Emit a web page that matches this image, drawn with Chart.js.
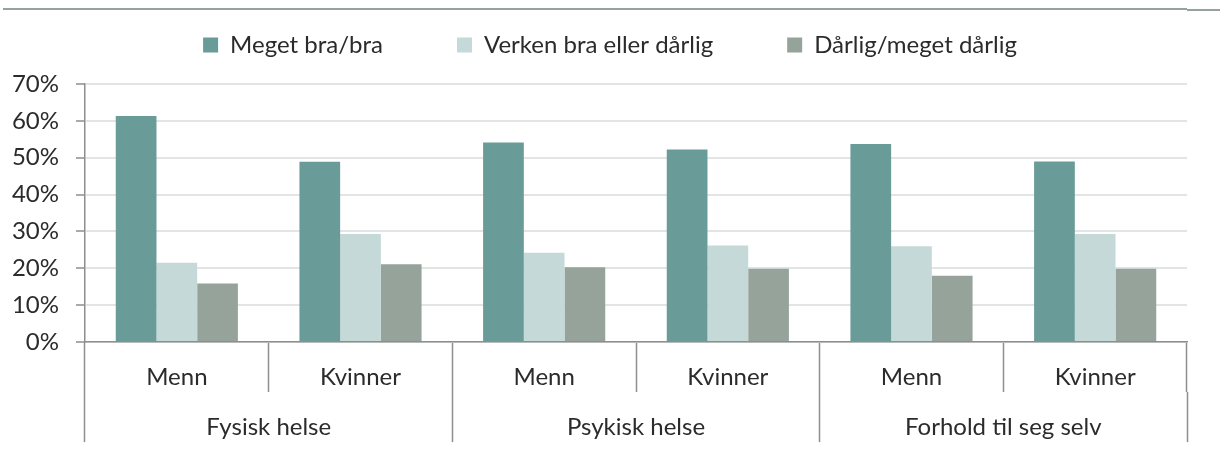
<!DOCTYPE html>
<html lang="no">
<head>
  <meta charset="UTF-8">
  <title>Helse etter kjønn</title>
  <script src="https://cdn.jsdelivr.net/npm/chart.js"></script>
  <style>
    html, body { margin: 0; padding: 0; background: #fff; }
    .wrap { position: relative; width: 1220px; height: 455px; }
    /* grå strek øverst */
    .topline { position: absolute; left: 3px; top: 8px; width: 1184px; height: 0; border-top: 2px solid #95a39b; }
    .topline2 { position: absolute; left: 1187px; top: 9px; width: 33px; height: 0; border-top: 2px solid #95a39b; }
    canvas { position: absolute; left: 0; top: 0; }
  </style>
</head>
<body>
  <div class="wrap">
    <canvas id="chart" width="1220" height="455"></canvas>
    <div class="topline"></div>
    <div class="topline2"></div>
  </div>

  <script>
    // kategorier
    const kjonn = ['Menn', 'Kvinner', 'Menn', 'Kvinner', 'Menn', 'Kvinner'];
    const grupper = ['Fysisk helse', 'Psykisk helse', 'Forhold til seg selv'];

    // verdier i prosent
    const megetBra = [61.3, 48.9, 54.1, 52.2, 53.7, 49.0];
    const verken = [21.5, 29.3, 24.2, 26.2, 26.0, 29.3];
    const darlig = [15.9, 21.1, 20.3, 19.9, 18.0, 19.9];

    const yTicks = [0, 10, 20, 30, 40, 50, 60, 70];

    const tekstFarge = '#2b2b2b';
    const aksefarge = '#8e8e8e';
    const font = { family: 'Lato', size: 24 };

    Chart.defaults.font.family = 'Lato';
    Chart.defaults.color = tekstFarge;

    new Chart(document.getElementById('chart').getContext('2d'), {
      type: 'bar',
      data: {
        labels: kjonn,
        datasets: [
          { label: 'Meget bra/bra', data: megetBra, backgroundColor: '#699b98' },
          { label: 'Verken bra eller dårlig', data: verken, backgroundColor: '#c5d9d8' },
          { label: 'Dårlig/meget dårlig', data: darlig, backgroundColor: '#95a39b' }
        ]
      },
      options: {
        responsive: false,
        animation: false,
        layout: { padding: { left: 0, right: 0, top: -41, bottom: 0 } },
        datasets: {
          bar: { categoryPercentage: 0.665, barPercentage: 1.0 }
        },
        plugins: {
          legend: {
            position: 'top',
            labels: {
              font: font,
              boxWidth: 15,
              boxHeight: 15,
              padding: 74,
              color: tekstFarge
            }
          },
          tooltip: { enabled: false }
        },
        scales: {
          x: {
            type: 'category',
            position: 'bottom',
            offset: true,
            grid: {
              offset: true,
              drawOnChartArea: false,
              drawTicks: true,
              tickLength: 50,
              tickColor: aksefarge,
              tickWidth: 1.5
            },
            border: { display: true, color: aksefarge, width: 1.5 },
            ticks: { font: font, color: tekstFarge, padding: -29, maxRotation: 0, autoSkip: false },
            afterFit: (scale) => { scale.height = 50; }
          },
          x2: {
            type: 'category',
            position: 'bottom',
            labels: grupper,
            offset: true,
            grid: {
              offset: true,
              drawOnChartArea: false,
              drawTicks: true,
              tickLength: 50,
              tickColor: aksefarge,
              tickWidth: 1.5
            },
            border: { display: false },
            ticks: { font: font, color: tekstFarge, padding: -29, maxRotation: 0, autoSkip: false },
            afterFit: (scale) => { scale.height = 63; }
          },
          // tomrom mellom forklaring og plottet
          xTop: {
            type: 'category',
            position: 'top',
            grid: { display: false },
            border: { display: false },
            ticks: { display: false },
            afterFit: (scale) => { scale.height = 17; }
          },
          y: {
            min: 0,
            max: 70,
            afterBuildTicks: (scale) => { scale.ticks = yTicks.map(v => ({ value: v })); },
            grid: {
              color: '#e1e6e5',
              lineWidth: 2,
              tickColor: aksefarge,
              tickLength: 9,
              tickWidth: 1.5
            },
            border: { display: true, color: aksefarge, width: 1.5 },
            ticks: {
              font: font,
              color: tekstFarge,
              padding: 17,
              callback: (v) => v + '%'
            },
            afterFit: (scale) => { scale.width = 85; }
          },
          // tomrom til høyre
          yRight: {
            type: 'linear',
            position: 'right',
            grid: { display: false },
            border: { display: false },
            ticks: { display: false },
            afterFit: (scale) => { scale.width = 33; }
          }
        }
      }
    });
  </script>
</body>
</html>
